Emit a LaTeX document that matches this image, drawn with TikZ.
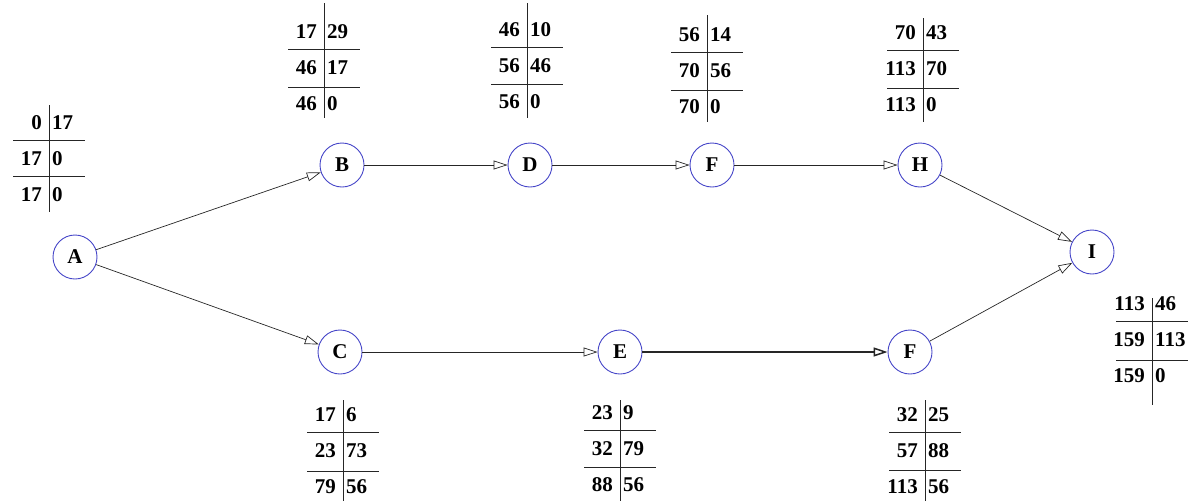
\documentclass[tikz,border=0pt]{standalone}
\usepackage{fontspec}
\setmainfont{Liberation Serif}
\usetikzlibrary{arrows.meta}
\definecolor{circblue}{RGB}{70,70,200}
% Schedule table: #1 name, #2 x of the divider, #3 divider top, #4 first rule,
% #5 second rule, #6 divider bottom, #7 rows as left/right pairs
\newcommand\pertbl[7]{%
  \draw[rule] (#2,#3) -- (#2,#6);
  \draw[rule] (#2-36,#4) -- (#2+36,#4);
  \draw[rule] (#2-36,#5) -- (#2+36,#5);
  \foreach \l/\r [count=\i] in {#7}{%
    \node[num,anchor=east] (#1l\i) at (#2-7,#4-17+\i*36-36) {\l};
    \node[num,anchor=west] (#1r\i) at (#2+3,#4-17+\i*36-36) {\r};
  }%
}
\begin{document}
\begin{tikzpicture}[x=1pt,y=-1pt,
  state/.style={circle, draw=circblue, line width=0.9pt, minimum size=44pt,
    inner sep=0pt, font=\fontsize{21}{21}\selectfont\bfseries},
  flow/.style={draw=black!85, line width=0.7pt,
    -{Triangle[open,length=14pt,width=9pt]}},
  heavy/.style={line width=1.5pt},
  rule/.style={draw=black!85, line width=1pt},
  num/.style={font=\fontsize{21}{21}\selectfont\bfseries, inner sep=0pt}]
\useasboundingbox (0,0) rectangle (1194,501);

% events
\node[state] (A) at (75,257) {A};
\node[state] (B) at (342,165) {B};
\node[state] (D) at (530,165) {D};
\node[state] (F1) at (712,165) {F};
\node[state] (H) at (920,165) {H};
\node[state] (I) at (1092,252) {I};
\node[state] (C) at (340,352) {C};
\node[state] (E) at (620,352) {E};
\node[state] (F2) at (910,352) {F};

% activities
\draw[flow] (A) -- (B);
\draw[flow] (A) -- (C);
\draw[flow] (B) -- (D);
\draw[flow] (D) -- (F1);
\draw[flow] (F1) -- (H);
\draw[flow] (H) -- (I);
\draw[flow] (C) -- (E);
\draw[flow,heavy] (E) -- (F2);
\draw[flow] (F2) -- (I);

% time tables
\pertbl{tA}{49}{105}{140}{176}{212}{0/17, 17/0, 17/0}
\pertbl{tB}{324}{3}{49}{87}{118}{17/29, 46/17, 46/0}
\pertbl{tD}{527}{3}{47}{84}{118}{46/10, 56/46, 56/0}
\pertbl{tF}{707}{15}{52}{90}{122}{56/14, 70/56, 70/0}
\pertbl{tH}{923}{18}{50}{88}{122}{70/43, 113/70, 113/0}
\pertbl{tI}{1152}{298}{321}{360}{405}{113/46, 159/113, 159/0}
\pertbl{tC}{343}{400}{432}{471}{501}{17/6, 23/73, 79/56}
\pertbl{tE}{620}{400}{430}{467}{501}{23/9, 32/79, 88/56}
\pertbl{tG}{925}{400}{432}{470}{501}{32/25, 57/88, 113/56}
\end{tikzpicture}
\end{document}
